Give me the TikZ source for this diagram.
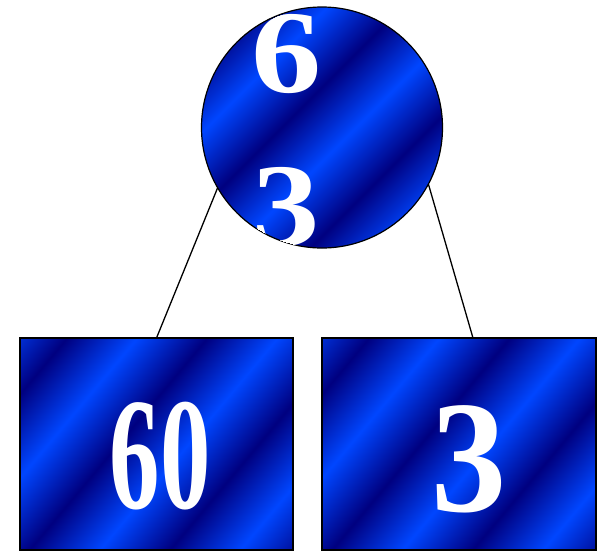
\documentclass[tikz,border=0pt]{standalone}
\usepackage{fontspec}
\setmainfont{Liberation Serif}
\usetikzlibrary{positioning,calc}
\definecolor{sapdark}{RGB}{0,0,128}
\definecolor{sapbright}{RGB}{0,70,255}
\pgfdeclarehorizontalshading{sapphire}{100bp}{color(0bp)=(sapdark); color(11bp)=(sapbright); color(22bp)=(sapdark); color(33bp)=(sapbright); color(44bp)=(sapdark); color(55bp)=(sapbright); color(66bp)=(sapdark); color(77bp)=(sapbright); color(88bp)=(sapdark); color(100bp)=(sapbright)}

\begin{document}
\begin{tikzpicture}[
  x=1pt, y=-1pt,
  every node/.style={inner sep=0pt, outer sep=0pt},
  blueball/.style={circle, draw=black, line width=1.2pt, shading=sapphire,
    shading angle=-45, minimum size=241pt},
  bluebox/.style={rectangle, draw=black, line width=1.5pt, shading=sapphire,
    shading angle=-40, minimum width=273pt, minimum height=212pt},
  digits/.style={anchor=base, text=white, font=\bfseries},
  link/.style={draw=black, line width=1.3pt}
]
\useasboundingbox (0,0) rectangle (598,552);

% the top circle
\node[blueball] (root) at (322,127.5) {};
\begin{scope}
  \clip (root.center) circle (120pt);
  \node[digits, font=\bfseries\fontsize{118}{118}\selectfont] (roottop) at (287,92)
    {\scalebox{1.19}[1]{6}};
  \node[digits, font=\bfseries\fontsize{118}{118}\selectfont] (rootbot) at (286,245)
    {\scalebox{1.14}[1]{3}};
\end{scope}

% the two boxes
\node[bluebox] (lbox) at (156.5,444) {};
\node[bluebox, minimum width=274pt] (rbox) at (459,444) {};
\node[digits, font=\bfseries\fontsize{160}{160}\selectfont] (lnum) at (160,508)
  {\scalebox{0.63}[1]{60}};
\node[digits, font=\bfseries\fontsize{160}{160}\selectfont] (rnum) at (469,511)
  {\scalebox{0.94}[1]{3}};

% connectors
\draw[link] (root.210) -- (lbox.north);
\draw[link] (root.-28) -- ($(rbox.north)+(14,0)$);
\end{tikzpicture}
\end{document}
